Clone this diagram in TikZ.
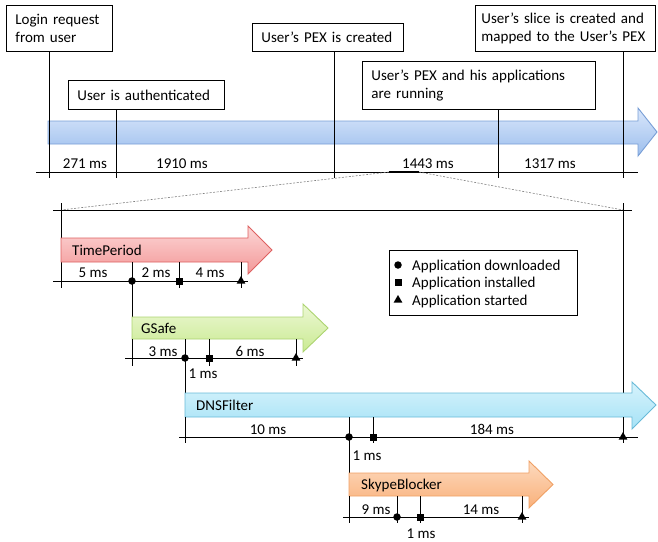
\documentclass[tikz,border=0pt]{standalone}
\usepackage{fontspec}
\setmainfont{Carlito}
\usetikzlibrary{shapes.geometric}

\definecolor{tlTop}{RGB}{218,231,251}
\definecolor{tlBot}{RGB}{156,190,237}
\definecolor{tlLine}{RGB}{120,158,214}
\definecolor{tpTop}{RGB}{252,214,214}
\definecolor{tpBot}{RGB}{243,152,152}
\definecolor{tpLine}{RGB}{222,96,96}
\definecolor{gsTop}{RGB}{236,248,212}
\definecolor{gsBot}{RGB}{202,234,146}
\definecolor{gsLine}{RGB}{172,212,112}
\definecolor{dfTop}{RGB}{214,243,252}
\definecolor{dfBot}{RGB}{166,226,246}
\definecolor{dfLine}{RGB}{104,186,216}
\definecolor{sbTop}{RGB}{253,218,190}
\definecolor{sbBot}{RGB}{249,176,122}
\definecolor{sbLine}{RGB}{240,160,100}

\tikzset{
	evbox/.style={draw, fill=white, line width=0.9pt, inner xsep=9pt, inner ysep=0pt, align=left, anchor=north west},
	msl/.style={anchor=base, inner sep=0pt},
	appname/.style={anchor=base west, inner sep=0pt},
	tick/.style={line width=0.9pt},
	dlmark/.style={circle, fill=black, inner sep=0pt, minimum size=7.5pt},
	inmark/.style={rectangle, fill=black, inner sep=0pt, minimum size=7pt},
	stmark/.style={regular polygon, regular polygon sides=3, fill=black, inner sep=0pt, minimum size=10pt},
	zoomline/.style={gray, line width=0.6pt, dash pattern=on 2pt off 1.5pt},
	tlfill/.style={top color=tlTop, bottom color=tlBot, draw=tlLine, line width=0.9pt},
	tpfill/.style={top color=tpTop, bottom color=tpBot, draw=tpLine, line width=0.9pt},
	gsfill/.style={top color=gsTop, bottom color=gsBot, draw=gsLine, line width=0.9pt},
	dffill/.style={top color=dfTop, bottom color=dfBot, draw=dfLine, line width=0.9pt},
	sbfill/.style={top color=sbTop, bottom color=sbBot, draw=sbLine, line width=0.9pt},
}

\begin{document}
\begin{tikzpicture}[x=1pt, y=-1pt, font=\fontsize{15}{18}\selectfont]
	\useasboundingbox (0,0) rectangle (658,541);
	% Linea de tiempo general
		\shade[tlfill] (48,121) -- (638,121) -- (638,108) -- (657,132) -- (638,156) -- (638,144) -- (48,144) -- cycle;
		\coordinate (axL) at (36,172);
		\coordinate (axR) at (638,172);
		\draw[tick] (axL) -- (axR);
	% Eventos
		\node[evbox, text width=88pt, minimum height=46pt] (login) at (6,5) {Login request\\from user};
		\node[evbox, text width=138pt, minimum height=29pt] (auth) at (68,80) {User is authenticated};
		\node[evbox, text width=133pt, minimum height=28pt] (pex) at (252,23) {User’s PEX is created};
		\node[evbox, text width=215pt, minimum height=48pt] (run) at (362,61) {User’s PEX and his applications\\are running};
		\node[evbox, inner xsep=6pt, text width=168pt, minimum height=46pt] (slice) at (475,5) {User’s slice is created and\\mapped to the User’s PEX};
		\coordinate (eLogin) at (49,178);
		\coordinate (eAuth) at (116,178);
		\coordinate (ePex) at (334,178);
		\coordinate (eRun) at (498,178);
		\coordinate (eSlice) at (623,178);
		\draw[tick] (login.south -| eLogin) -- (eLogin);
		\draw[tick] (auth.south -| eAuth) -- (eAuth);
		\draw[tick] (pex.south -| ePex) -- (ePex);
		\draw[tick] (run.south -| eRun) -- (eRun);
		\draw[tick] (slice.south -| eSlice) -- (eSlice);
	% Duraciones
		\node[msl] (d1) at (85,168) {271 ms};
		\node[msl] (d2) at (182,168) {1910 ms};
		\node[msl] (d3) at (428,168) {1443 ms};
		\node[msl] (d4) at (550,168) {1317 ms};

	% Ampliacion
		\coordinate (zA) at (389,172);
		\coordinate (zB) at (419,172);
		\coordinate (frL) at (61,210);
		\coordinate (frR) at (623,210);
		\draw[zoomline] (zA) -- (frL);
		\draw[zoomline] (zB) -- (frR);
		\draw[line width=2.4pt] (zA) -- (zB);
		\draw[tick] (frL) ++(-8,0) -- (632,210);
		\draw[tick] (frL) ++(0,-7) -- (61,288);
		\draw[tick] (frR) ++(0,-7) -- (623,443);

	% Leyenda
		\node[draw, line width=0.9pt, anchor=north west, minimum width=188pt, minimum height=65pt, inner sep=0pt] (legend) at (389,250) {};
		\node[dlmark] (lgD) at (398,265) {};
		\node[inmark] (lgI) at (398,282) {};
		\node[stmark] (lgS) at (398,300) {};
		\node[appname] (lgDt) at (412,270) {Application downloaded};
		\node[appname] (lgIt) at (412,287) {Application installed};
		\node[appname] (lgSt) at (412,305) {Application started};

	% TimePeriod
		\coordinate (tpNW) at (61,238);
		\coordinate (tpSW) at (61,262);
		\shade[tpfill] (tpNW) -- (248,238) -- (248,226) -- (272,250) -- (248,274) -- (248,262) -- (tpSW) -- cycle;
		\node[appname] (tpName) at (72,255) {TimePeriod};
		\draw[tick] (53,281) -- (248,281);
		\node[dlmark] (tpD) at (132,281) {};
		\node[inmark] (tpI) at (179,281) {};
		\node[stmark] (tpS) at (241,281) {};
		\draw[tick] (tpI |- tpSW) -- ++(0,26);
		\draw[tick] (tpS |- tpSW) -- ++(0,26);
		\node[msl] (tp1) at (93,277) {5 ms};
		\node[msl] (tp2) at (156,277) {2 ms};
		\node[msl] (tp3) at (210,277) {4 ms};

	% GSafe
		\coordinate (gsNW) at (132,317);
		\coordinate (gsSW) at (132,339);
		\draw[tick] (tpD |- tpSW) -- (gsNW);
		\shade[gsfill] (gsNW) -- (303,317) -- (303,304) -- (328,328) -- (303,352) -- (303,339) -- (gsSW) -- cycle;
		\node[appname] (gsName) at (141,333) {GSafe};
		\draw[tick] (125,358) -- (303,358);
		\node[dlmark] (gsD) at (185,358) {};
		\node[inmark] (gsI) at (209,358) {};
		\node[stmark] (gsS) at (296,358) {};
		\draw[tick] (gsSW) -- ++(0,27);
		\draw[tick] (gsI |- gsSW) -- ++(0,27);
		\draw[tick] (gsS |- gsSW) -- ++(0,27);
		\node[msl] (gs1) at (163,356) {3 ms};
		\node[msl] (gs2) at (250,356) {6 ms};
		\node[msl] (gs3) at (203,378) {1 ms};

	% DNSFilter
		\coordinate (dfNW) at (185,393);
		\coordinate (dfSW) at (185,417);
		\draw[tick] (gsD |- gsSW) -- (dfNW);
		\shade[dffill] (dfNW) -- (632,393) -- (632,382) -- (656,405) -- (632,429) -- (632,417) -- (dfSW) -- cycle;
		\node[appname] (dfName) at (196,410) {DNSFilter};
		\draw[tick] (179,437) -- (638,437);
		\node[dlmark] (dfD) at (349,437) {};
		\node[inmark] (dfI) at (373,437) {};
		\node[stmark] (dfS) at (623,437) {};
		\draw[tick] (dfSW) -- ++(0,26);
		\draw[tick] (dfI |- dfSW) -- ++(0,26);
		\draw[tick] (dfS |- dfSW) -- ++(0,26);
		\node[msl] (df1) at (268,434) {10 ms};
		\node[msl] (df2) at (492,434) {184 ms};
		\node[msl] (df3) at (367,460) {1 ms};

	% SkypeBlocker
		\coordinate (sbNW) at (349,473);
		\coordinate (sbSW) at (349,496);
		\draw[tick] (dfD |- dfSW) -- (sbNW);
		\shade[sbfill] (sbNW) -- (529,473) -- (529,461) -- (553,484.5) -- (529,508) -- (529,496) -- (sbSW) -- cycle;
		\node[appname] (sbName) at (361,489) {SkypeBlocker};
		\draw[tick] (343,517) -- (529,517);
		\node[dlmark] (sbD) at (397,517) {};
		\node[inmark] (sbI) at (420,517) {};
		\node[stmark] (sbS) at (522,517) {};
		\draw[tick] (sbSW) -- ++(0,27);
		\draw[tick] (sbD |- sbSW) -- ++(0,27);
		\draw[tick] (sbI |- sbSW) -- ++(0,27);
		\draw[tick] (sbS |- sbSW) -- ++(0,27);
		\node[msl] (sb1) at (376,514) {9 ms};
		\node[msl] (sb2) at (481,514) {14 ms};
		\node[msl] (sb3) at (421,538) {1 ms};
\end{tikzpicture}
\end{document}
